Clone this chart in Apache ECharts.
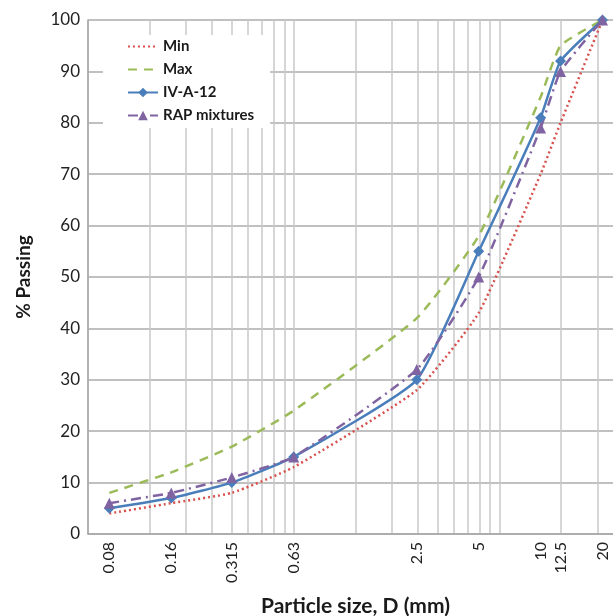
<!DOCTYPE html>
<html>
<head>
<meta charset="utf-8">
<script src="https://cdn.jsdelivr.net/npm/echarts@6/dist/echarts.min.js"></script>
<style>
  html, body { margin: 0; padding: 0; background: #fff; }
  #chart { width: 613px; height: 616px; }
</style>
</head>
<body>
<div id="chart"></div>
<script>
// sieve sizes (mm) and % passing
var sizes = [0.08, 0.16, 0.315, 0.63, 2.5, 5, 10, 12.5, 20];
var minVals = [4, 6, 8, 13, 28, 43, 70, 80, 100];
var maxVals = [8, 12, 17, 24, 42, 58, 85, 95, 100];
var ivVals = [5, 7, 10, 15, 30, 55, 81, 92, 100];
var rapVals = [6, 8, 11, 15, 32, 50, 79, 90, 100];

// x tick labels and log gridline positions
var tickLabels = [0.08, 0.16, 0.315, 0.63, 2.5, 5, 10, 12.5, 20];
var gridX = [0.063, 0.126, 0.189, 0.252, 0.315, 0.378, 0.441, 0.504, 0.567,
             0.63, 1.26, 1.89, 2.52, 3.15, 3.78, 4.41, 5.04, 5.67,
             6.3, 12.6, 18.9];

function pairs(vals) {
    return sizes.map(function (s, i) { return [s, vals[i]]; });
}

var myChart = echarts.init(document.getElementById('chart'));
var font = 'Lato';
var noMark = { color: 'rgba(0,0,0,0)', borderWidth: 0 };

var option = {
    animation: false,
    title: {
        text: 'Particle size, D (mm)',
        left: 256,
        top: 591,
        textStyle: { fontFamily: font, fontWeight: 'bold', fontSize: 21, color: '#1a1a1a' }
    },
    grid: { left: 88, top: 20, bottom: 82, right: -92, outerBoundsMode: 'none' },
    legend: {
        orient: 'vertical',
        left: 103,
        top: 35,
        padding: [4, 16, 5, 24],
        itemGap: 8,
        itemWidth: 30,
        itemHeight: 12,
        backgroundColor: '#fff',
        textStyle: { fontFamily: font, fontWeight: 'bold', fontSize: 15, color: '#1a1a1a' },
        data: [
            { name: 'Min', itemStyle: noMark },
            { name: 'Max', itemStyle: noMark },
            'IV-A-12',
            'RAP mixtures'
        ]
    },
    xAxis: {
        type: 'log',
        logBase: 10,
        min: 0.063,
        max: 63,
        axisLine: { show: true, onZero: false, lineStyle: { color: '#a6a6a6', width: 1.5 } },
        axisTick: { show: false, customValues: gridX },
        splitLine: { show: true, lineStyle: { color: '#c8c8c8', width: 1.5 } },
        axisLabel: {
            customValues: tickLabels,
            rotate: 90,
            margin: 8,
            fontFamily: font,
            fontSize: 16,
            color: '#222',
            formatter: function (v) { return String(v); }
        }
    },
    yAxis: {
        type: 'value',
        min: 0,
        max: 100,
        interval: 10,
        name: '% Passing',
        nameLocation: 'middle',
        nameGap: 55,
        nameTextStyle: { fontFamily: font, fontWeight: 'bold', fontSize: 19, color: '#1a1a1a' },
        axisLine: { show: true, lineStyle: { color: '#a6a6a6', width: 1.5 } },
        axisTick: { show: false },
        splitLine: { lineStyle: { color: '#ababab', width: 1.5 } },
        axisLabel: { fontFamily: font, fontSize: 17, color: '#222', margin: 8 }
    },
    series: [
        {
            name: 'Min',
            type: 'line',
            data: pairs(minVals),
            smooth: 0.15,
            symbol: 'none',
            lineStyle: { color: '#d9514e', width: 2.5, type: [2, 3] },
            itemStyle: { color: '#d9514e' }
        },
        {
            name: 'Max',
            type: 'line',
            data: pairs(maxVals),
            smooth: 0.15,
            symbol: 'none',
            lineStyle: { color: '#9bbb59', width: 2.5, type: [9, 7] },
            itemStyle: { color: '#9bbb59' }
        },
        {
            name: 'IV-A-12',
            type: 'line',
            data: pairs(ivVals),
            smooth: 0.15,
            symbol: 'diamond',
            symbolSize: 11,
            lineStyle: { color: '#4a7ebb', width: 2.5 },
            itemStyle: { color: '#4a7ebb' }
        },
        {
            name: 'RAP mixtures',
            type: 'line',
            data: pairs(rapVals),
            smooth: 0.15,
            symbol: 'triangle',
            symbolSize: 11,
            lineStyle: { color: '#8064a2', width: 2.5, type: [10, 5, 2, 5] },
            itemStyle: { color: '#8064a2' }
        }
    ]
};

myChart.setOption(option);
window.onresize = function () {
    myChart.resize();
};
</script>
</body>
</html>
